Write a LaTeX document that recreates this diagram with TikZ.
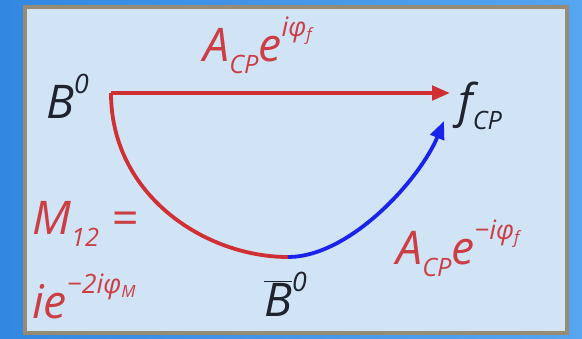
\documentclass[tikz,border=0pt]{standalone}
\usepackage{fontspec}
\setmainfont{Open Sans}
\usetikzlibrary{arrows.meta}

\definecolor{bgblue}{RGB}{50,135,225}
\definecolor{bglite}{RGB}{85,165,240}
\definecolor{panel}{RGB}{208,228,246}
\definecolor{brd}{RGB}{150,140,118}
\definecolor{cpred}{RGB}{208,48,52}
\definecolor{lbred}{RGB}{205,62,68}
\definecolor{cpblue}{RGB}{25,35,235}
\definecolor{ink}{RGB}{30,35,45}

% small raised / lowered pieces of text
\newcommand{\lowtx}[1]{\raisebox{-0.5ex}{\fontsize{18}{18}\selectfont #1}}
\newcommand{\hightx}[1]{\raisebox{1.0ex}{\fontsize{19}{19}\selectfont #1}}
\newcommand{\lowsm}[1]{\raisebox{-0.3ex}{\fontsize{12}{12}\selectfont #1}}

\begin{document}
\begin{tikzpicture}[x=0.025cm, y=-0.025cm]
\tikzset{
    LR/.style={text=lbred, font=\fontsize{33}{38}\selectfont\itshape,
               inner sep=0pt, anchor=base west},
    LK/.style={text=ink, font=\fontsize{33}{38}\selectfont\itshape,
               inner sep=0pt, anchor=base west},
    RA/.style={draw=cpred, line width=2.7pt,
               -{Triangle[length=0.45cm, width=0.36cm]}},
    RC/.style={draw=cpred, line width=2.7pt},
    BA/.style={draw=cpblue, line width=2.7pt,
               -{Triangle[length=0.45cm, width=0.36cm]}},
}

% background and panel
\fill[left color=bgblue, right color=bglite] (0,0) rectangle (582,338);
\draw[draw=brd, line width=3.5pt, fill=panel] (25,7) rectangle (567,333);

% states
\node[LK] (B0)  at (46,118)  {B\hightx{0}};
\node[LK] (fcp) at (458,117) {f\lowtx{CP}};
\node[LK] (Bb)  at (264,316) {$\overline{\mbox{\itshape B}}$\hightx{0}};

% amplitudes
\node[LR] (Aup) at (203,61)  {A\lowtx{CP}e\hightx{iφ\lowsm{f}}};
\node[LR] (Alo) at (396,264) {A\lowtx{CP}e\hightx{−iφ\lowsm{f}}};
\node[LR] (Mlab) at (32,234) {M\lowtx{12} =};
\node[LR] (Mval) at (32,318) {ie\hightx{−2iφ\lowsm{M}}};

% path points
\coordinate (st)  at (111,93);
\coordinate (hd)  at (450,93);
\coordinate (bot) at (288,257);
\coordinate (tip) at (444,121);

\draw[RA] (st) -- (hd);
\draw[RC] (st) .. controls +(0,102) and +(-83,0) .. (bot);
\draw[BA] (bot) .. controls +(62,0) and +(-24,58) .. (tip);

\end{tikzpicture}
\end{document}
